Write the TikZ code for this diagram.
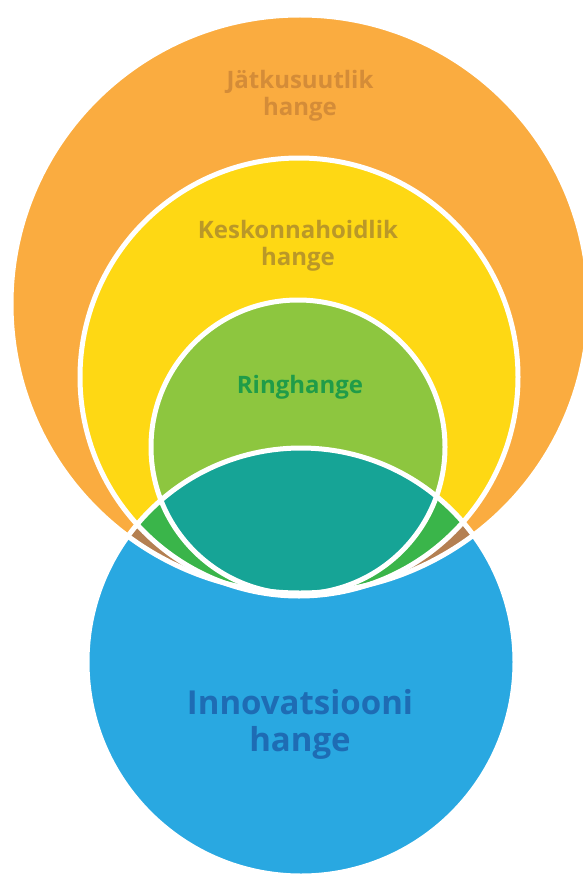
\documentclass[tikz,border=0pt]{standalone}
\usepackage{fontspec}
\setmainfont{Open Sans}
\usepackage{xcolor}
\definecolor{orangefill}{RGB}{250,172,64}
\definecolor{yellowfill}{RGB}{254,216,20}
\definecolor{limefill}{RGB}{141,198,63}
\definecolor{bluefill}{RGB}{41,168,225}
\definecolor{tealfill}{RGB}{22,164,150}
\definecolor{leaffill}{RGB}{58,181,74}
\definecolor{brownfill}{RGB}{180,128,82}
\definecolor{orangetext}{RGB}{212,140,56}
\definecolor{yellowtext}{RGB}{186,152,40}
\definecolor{ringtext}{RGB}{32,156,72}
\definecolor{bluetext}{RGB}{30,108,180}

\begin{document}
\begin{tikzpicture}[
    x=1pt, y=-1pt,
    edge/.style={draw=white, line width=5pt},
    label/.style={align=center, font=\bfseries\fontsize{24}{27}\selectfont},
    biglabel/.style={align=center, font=\bfseries\fontsize{33}{37}\selectfont}
]
\useasboundingbox (0,0) rectangle (582,880);
\coordinate (jc) at (300,304);
\coordinate (kc) at (299,377);
\coordinate (rc) at (298,447);
\coordinate (ic) at (301,662);

\fill[orangefill] (jc) circle[radius=289pt];
\fill[yellowfill] (kc) circle[radius=219pt];
\fill[limefill] (rc) circle[radius=147pt];
\fill[bluefill] (ic) circle[radius=214pt];

\begin{scope}
\clip (ic) circle[radius=214pt];
\fill[brownfill] (jc) circle[radius=289pt];
\fill[leaffill] (kc) circle[radius=219pt];
\fill[tealfill] (rc) circle[radius=147pt];
\end{scope}

\draw[edge] (jc) circle[radius=289pt];
\draw[edge] (kc) circle[radius=219pt];
\draw[edge] (rc) circle[radius=147pt];
\draw[edge] (ic) circle[radius=214pt];

\node[label, text=orangetext] (jlabel) at (300,96) {Jätkusuutlik\\hange};
\node[label, text=yellowtext] (klabel) at (298,246) {Keskonnahoidlik\\hange};
\node[label, text=ringtext] (rlabel) at (300,387) {Ringhange};
\node[biglabel, text=bluetext] (ilabel) at (300,724) {Innovatsiooni\\hange};
\end{tikzpicture}
\end{document}
